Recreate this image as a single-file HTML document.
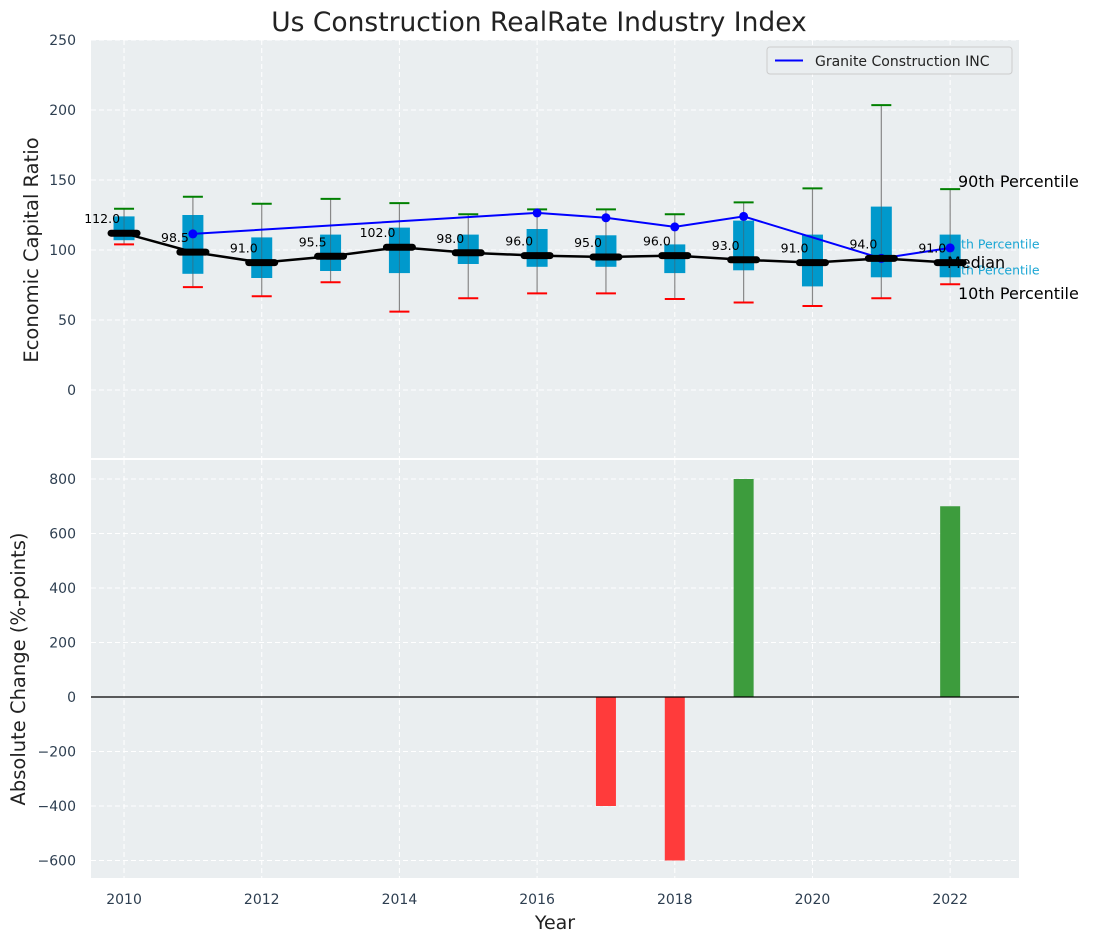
<!DOCTYPE html>
<html><head><meta charset="utf-8">
<style>
body{margin:0;background:#fff;}
svg{display:block;font-family:"DejaVu Sans","Liberation Sans",sans-serif;}
</style></head>
<body>
<svg id="chart" width="1093" height="942" viewBox="0 0 1093 942"></svg>
<script>
const years = [2010,2011,2012,2013,2014,2015,2016,2017,2018,2019,2020,2021,2022];
const medians = [112,98.5,91,95.5,102,98,96,95,96,93,91,94,91];
const q1 = [107,83,80,85,83.5,90,88,88,83.5,85.5,74,80.5,80.5];
const q3 = [124,125,109,111,116,111,115,110.5,104,121,111,131,111];
const p10 = [104,73.5,67,77,56,65.5,69,69,65,62.5,60,65.5,75.5];
const p90 = [129.5,138,133,136.5,133.5,125.5,129,129,125.5,134,144,203.5,143.5];
const graniteYears = [2011,2016,2017,2018,2019,2021,2022];
const graniteVals = [111.5,126.5,123,116.5,124,94,101.5];
const changeYears = [2017,2018,2019,2022];
const changeVals = [-400,-600,800,700];
const topTicks = [0,50,100,150,200,250];
const bottomTicks = [-600,-400,-200,0,200,400,600,800];
const xTicks = [2010,2012,2014,2016,2018,2020,2022];

const NS='http://www.w3.org/2000/svg';
const svg=document.getElementById('chart');
function mk(tag,attrs,parent){const e=document.createElementNS(NS,tag);for(const k in attrs)e.setAttribute(k,attrs[k]);(parent||svg).appendChild(e);return e;}
const L=91,R=1019;
const x=v=>L+(v-2009.52)/(2023-2009.52)*(R-L);
const yT=v=>390-v*1.4;
const yB=v=>697-v*0.2725;
const tickCol='#2d3e50';

const bgT=mk('rect',{x:L,y:40,width:R-L,height:418,fill:'#eaeef0'});


const bgB=mk('rect',{x:L,y:460,width:R-L,height:418,fill:'#eaeef0'});



xTicks.forEach(t=>{
  mk('line',{x1:x(t),x2:x(t),y1:40,y2:458,stroke:'#fff','stroke-dasharray':'5,3','stroke-width':1});
  mk('line',{x1:x(t),x2:x(t),y1:460,y2:878,stroke:'#fff','stroke-dasharray':'5,3','stroke-width':1});
  const tl=mk('text',{x:x(t),y:904,'text-anchor':'middle','font-size':14,fill:tickCol});
  tl.textContent=t;
  
  
});
topTicks.forEach(t=>{
  mk('line',{x1:L,x2:R,y1:yT(t),y2:yT(t),stroke:'#fff','stroke-dasharray':'5,3','stroke-width':1});
  const tl=mk('text',{x:76,y:yT(t)+5,'text-anchor':'end','font-size':14,fill:tickCol});
  tl.textContent=t;
  
  
});
bottomTicks.forEach(t=>{
  mk('line',{x1:L,x2:R,y1:yB(t),y2:yB(t),stroke:'#fff','stroke-dasharray':'5,3','stroke-width':1});
  const tl=mk('text',{x:76,y:yB(t)+5,'text-anchor':'end','font-size':14,fill:tickCol});
  tl.textContent=(t<0?'\u2212'+(-t):t);
  
  
});

const last=years.length-1;
const c75=mk('text',{x:x(years[last])-5,y:yT(q3[last])+14,'font-size':12.5,fill:'#1aa6d4'});
c75.textContent='75th Percentile';


const c25=mk('text',{x:x(years[last])-5,y:yT(q1[last])-3,'font-size':12.5,fill:'#1aa6d4'});
c25.textContent='25th Percentile';



years.forEach((yr,i)=>{
  const cx=x(yr);
  const w=mk('line',{x1:cx,x2:cx,y1:yT(p90[i]),y2:yT(p10[i]),stroke:'#888','stroke-width':1.2});
  
  
  const b=mk('rect',{x:cx-10.5,y:yT(q3[i]),width:21,height:yT(q1[i])-yT(q3[i]),fill:'#0099cc'});
  
  
  mk('line',{x1:cx,x2:cx,y1:yT(q3[i]),y2:yT(q1[i]),stroke:'#555','stroke-width':1,opacity:0.5});
  const ct=mk('line',{x1:cx-10,x2:cx+10,y1:yT(p90[i]),y2:yT(p90[i]),stroke:'green','stroke-width':2});
  
  
  const cb=mk('line',{x1:cx-10,x2:cx+10,y1:yT(p10[i]),y2:yT(p10[i]),stroke:'red','stroke-width':2});
  
  
});

const gp=graniteYears.map((yr,i)=>x(yr)+','+yT(graniteVals[i])).join(' ');
const gl=mk('polyline',{points:gp,fill:'none',stroke:'#0000ff','stroke-width':2});


graniteYears.forEach((yr,i)=>{
  const d=mk('circle',{cx:x(yr),cy:yT(graniteVals[i]),r:4.5,fill:'#0000ff'});
  
  
});

const mp=years.map((yr,i)=>x(yr)+','+yT(medians[i])).join(' ');
const ml=mk('polyline',{points:mp,fill:'none',stroke:'#000','stroke-width':2.5});


years.forEach((yr,i)=>{
  const cx=x(yr),cy=yT(medians[i]);
  const m=mk('line',{x1:cx-13,x2:cx+13,y1:cy,y2:cy,stroke:'#000','stroke-width':7,'stroke-linecap':'round'});
  
  
  const t=mk('text',{x:cx-4,y:cy-10,'text-anchor':'end','font-size':12.5,fill:'#000'});
  t.textContent=medians[i].toFixed(1);
  
  
});

[['90th Percentile',958,187,'p90-annotation'],['Median',947,268,'median-annotation'],['10th Percentile',958,299,'p10-annotation']].forEach(a=>{
  const t=mk('text',{x:a[1],y:a[2],'font-size':16,fill:'#000'});
  t.textContent=a[0];
  
  
});

const lg=mk('g',{});


mk('rect',{x:767,y:47,width:245,height:27,rx:3,fill:'#eaeef0',stroke:'#ccc','stroke-width':1},lg);
mk('line',{x1:775,x2:803,y1:60.5,y2:60.5,stroke:'#0000ff','stroke-width':2},lg);
const lt=mk('text',{x:815,y:66,'font-size':14,fill:'#222'},lg);
lt.textContent='Granite Construction INC';

changeYears.forEach((yr,i)=>{
  const v=changeVals[i];
  const b=mk('rect',{x:x(yr)-10,y:Math.min(yB(v),yB(0)),width:20,height:Math.abs(yB(v)-yB(0)),fill:v<0?'#ff3b3b':'#3d9c3d'});
  
  
});
const zl=mk('line',{x1:L,x2:R,y1:yB(0),y2:yB(0),stroke:'#000','stroke-width':1.2});



const tt=mk('text',{x:539,y:31,'text-anchor':'middle','font-size':26.5,fill:'#222'});
tt.textContent='Us Construction RealRate Industry Index';


const y1=mk('text',{x:0,y:0,'text-anchor':'middle','font-size':19.5,fill:'#222',transform:'translate(38,250) rotate(-90)'});
y1.textContent='Economic Capital Ratio';


const y2=mk('text',{x:0,y:0,'text-anchor':'middle','font-size':19.5,fill:'#222',transform:'translate(25,669) rotate(-90)'});
y2.textContent='Absolute Change (%-points)';


const xt=mk('text',{x:555,y:929,'text-anchor':'middle','font-size':19,fill:'#222'});
xt.textContent='Year';


</script>
</body></html>
